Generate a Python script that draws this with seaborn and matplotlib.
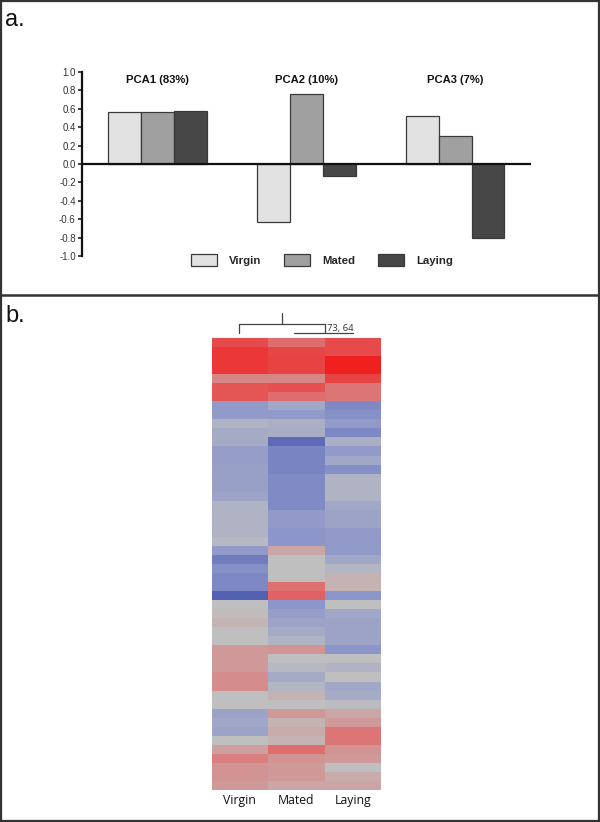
import matplotlib
matplotlib.use("Agg")
import matplotlib.pyplot as plt
from matplotlib.patches import Rectangle, Patch
from matplotlib.lines import Line2D
from matplotlib.colors import LinearSegmentedColormap
import numpy as np
import pandas as pd
import seaborn as sns

# ---------------- data ----------------
components = ["PCA1 (83%)", "PCA2 (10%)", "PCA3 (7%)"]
groups = ["Virgin", "Mated", "Laying"]
virgin_pc = [0.57, -0.63, 0.52]
mated_pc = [0.56, 0.76, 0.30]
laying_pc = [0.58, -0.13, -0.80]
y_ticks = [1.0, 0.8, 0.6, 0.4, 0.2, 0.0, -0.2, -0.4, -0.6, -0.8, -1.0]

heat_virgin = [0.78, 0.88, 0.88, 0.88, 0.45, 0.72, 0.72,
               -0.45, -0.45, -0.15, -0.25, -0.25, -0.4, -0.4, -0.38, -0.38, -0.38, -0.35,
               -0.15, -0.15, -0.15, -0.15, -0.08, -0.45, -0.72, -0.55, -0.62, -0.62, -0.95,
               0.0, 0.03, 0.08, 0.0, 0.0, 0.3, 0.3, 0.3, 0.4, 0.4, 0.0, 0.0,
               -0.35, -0.3, -0.35, 0.0, 0.25, 0.5, 0.35, 0.35, 0.3]
heat_mated = [0.6, 0.8, 0.82, 0.82, 0.45, 0.75, 0.6,
              -0.3, -0.45, -0.2, -0.22, -0.88, -0.65, -0.65, -0.65, -0.6, -0.6, -0.6,
              -0.6, -0.45, -0.45, -0.5, -0.5, 0.2, 0.0, 0.0, 0.0, 0.58, 0.65,
              -0.5, -0.4, -0.35, -0.25, -0.15, 0.35, 0.0, -0.1, -0.25, -0.12, 0.1, 0.0,
              0.3, 0.1, 0.15, 0.1, 0.6, 0.35, 0.3, 0.3, 0.2]
heat_laying = [0.78, 0.78, 1.0, 1.0, 0.82, 0.55, 0.55,
               -0.62, -0.55, -0.45, -0.62, -0.2, -0.45, -0.3, -0.55, -0.15, -0.15, -0.15,
               -0.3, -0.35, -0.35, -0.45, -0.45, -0.45, -0.3, -0.12, 0.1, 0.1, -0.5,
               0.0, -0.3, -0.35, -0.35, -0.35, -0.5, 0.0, -0.15, 0.0, -0.3, -0.25, -0.05,
               0.2, 0.3, 0.55, 0.55, 0.35, 0.3, 0.0, 0.15, 0.2]

# dendrogram: (left column, right column, label) - Mated/Laying joined first, then Virgin
dendro_links = [(1, 2, "73, 64"), (0, 1.5, "")]

# ---------------- figure ----------------
sns.set_theme(style="white")
plt.rcParams["font.family"] = ["Liberation Sans", "DejaVu Sans"]

fig = plt.figure(figsize=(6.0, 8.22), dpi=100)
W, H = 600.0, 822.0

def fx(px):
    return px / W

def fy(py):
    return 1 - py / H

# ---- panel a ----
ax = fig.add_axes([fx(82), fy(256), fx(531) - fx(82), fy(72) - fy(256)])
df = pd.DataFrame({
    "component": components * 3,
    "group": [groups[0]] * 3 + [groups[1]] * 3 + [groups[2]] * 3,
    "value": virgin_pc + mated_pc + laying_pc,
})
bar_colors = ["#e2e2e2", "#a0a0a0", "#474747"]
sns.barplot(data=df, x="component", y="value", hue="group", hue_order=groups,
            palette=bar_colors, width=0.664, edgecolor="#3a3a3a", linewidth=0.9,
            saturation=1, legend=False, ax=ax)
ax.set_xlim(-0.505, 2.51)
ax.set_ylim(-1.0, 1.0)
ax.set_xlabel("")
ax.set_ylabel("")
ax.set_xticks([])
ax.set_yticks(y_ticks)
ax.set_yticklabels([f"{t:.1f}" for t in y_ticks], fontsize=7.0, color="#333333")
ax.tick_params(axis="y", direction="out", length=3, width=1.2, color="#222222", pad=1.5, left=True)
for s in ["top", "right", "bottom"]:
    ax.spines[s].set_visible(False)
ax.spines["left"].set_linewidth(1.6)
ax.spines["left"].set_color("#111111")
ax.axhline(0, color="#111111", lw=1.6, zorder=5)
ax.patch.set_alpha(0)
for i, c in enumerate(components):
    ax.text(i, 0.915, c, ha="center", va="center", fontsize=8.1, fontweight="bold", color="#111111")

handles = [Patch(facecolor=bar_colors[i], edgecolor="#3a3a3a", linewidth=0.9, label=g) for i, g in enumerate(groups)]
fig.legend(handles=handles, loc="center", bbox_to_anchor=(fx(322), fy(260)), ncol=3,
           frameon=False, prop={"weight": "bold", "size": 8.2}, handlelength=2.3,
           handleheight=1.15, handletextpad=1.05, columnspacing=2.0, borderaxespad=0)

fig.text(fx(5), fy(26), "a.", fontsize=17, color="#111111", ha="left", va="baseline")

# ---- panel b ----
ax2 = fig.add_axes([fx(211.7), fy(790), fx(381) - fx(211.7), fy(338) - fy(790)])
heat = pd.DataFrame({groups[0]: heat_virgin, groups[1]: heat_mated, groups[2]: heat_laying})
cmap = LinearSegmentedColormap.from_list(
    "bgr",
    [(0.0, (78/255, 92/255, 176/255)),
     (0.25, (140/255, 150/255, 202/255)),
     (0.5, (192/255, 192/255, 192/255)),
     (0.75, (218/255, 128/255, 128/255)),
     (1.0, (240/255, 32/255, 32/255))])
sns.heatmap(heat, cmap=cmap, vmin=-1, vmax=1, cbar=False, ax=ax2,
            xticklabels=groups, yticklabels=False)
ax2.tick_params(axis="x", length=0, pad=3)
for lab in ax2.get_xticklabels():
    lab.set_fontfamily(["Open Sans", "DejaVu Sans"])
    lab.set_fontsize(8.8)
    lab.set_color("#111111")
    lab.set_rotation(0)

# dendrogram drawn above the heatmap, in heatmap data coordinates
base = -0.55
step = 1.0
dkw = dict(color="#444444", lw=0.9, clip_on=False)
l1 = dendro_links[0]
ax2.plot([l1[0] + 0.5 - 0.05, l1[1] + 0.5], [base, base], **dkw)
mid1 = (l1[0] + l1[1]) / 2 + 0.5
top = base - step
left_leg = dendro_links[1][0] + 0.5 - 0.02
ax2.plot([left_leg, left_leg], [base, top], **dkw)
ax2.plot([mid1, mid1], [base, top], **dkw)
ax2.plot([left_leg, mid1], [top, top], **dkw)
root = (left_leg + mid1) / 2
ax2.plot([root, root], [top, top - 1.2], **dkw)
ax2.text(mid1 + 0.04, (base + top) / 2 + 0.05, l1[2], fontsize=6.8, ha="left", va="center",
         color="#333333", family=["Open Sans", "DejaVu Sans"])

fig.text(fx(5), fy(322), "b.", fontsize=17, color="#111111", ha="left", va="baseline")

# ---- borders ----
fig.add_artist(Rectangle((fx(1), fy(821)), fx(598), fy(1) - fy(821), transform=fig.transFigure,
                         fill=False, lw=1.6, ec="#333333"))
fig.add_artist(Line2D([0, 1], [fy(295), fy(295)], transform=fig.transFigure, lw=1.8, color="#333333"))

fig.savefig("out.png", dpi=100)
